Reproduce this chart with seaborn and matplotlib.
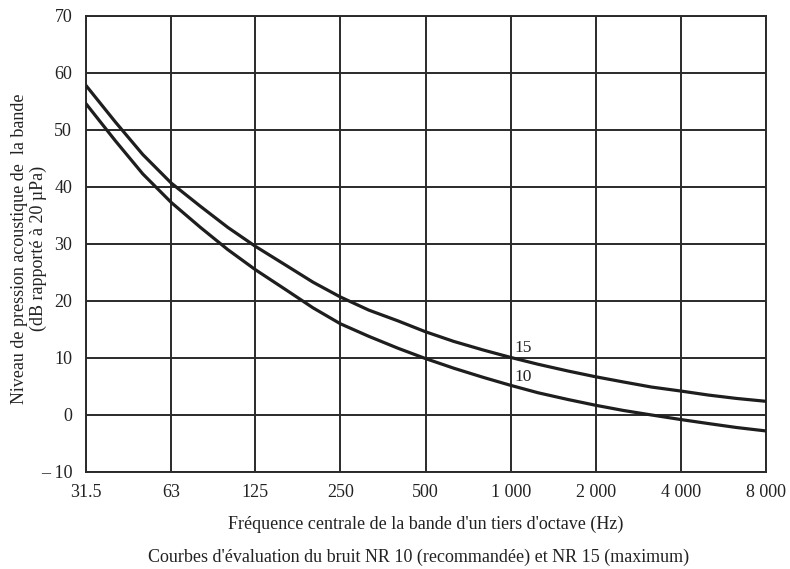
import numpy as np
import pandas as pd
import seaborn as sns
import matplotlib
matplotlib.use('Agg')
import matplotlib.pyplot as plt

# third-octave band centre frequencies (Hz)
freqs = [31.5, 40, 50, 63, 80, 100, 125, 160, 200, 250, 315, 400, 500,
         630, 800, 1000, 1250, 1600, 2000, 2500, 3150, 4000, 5000, 6300, 8000]

# NR 15 curve (dB re 20 uPa)
nr15 = [57.8, 51.4, 45.7, 40.7, 36.6, 32.9, 29.6, 26.3, 23.3, 20.7, 18.4, 16.5, 14.6,
        12.9, 11.4, 10.1, 8.9, 7.7, 6.7, 5.8, 4.9, 4.2, 3.5, 2.9, 2.4]

# NR 10 curve
nr10 = [54.6, 48.1, 42.3, 37.3, 32.9, 29.0, 25.5, 22.0, 18.8, 16.0, 13.8, 11.7, 9.9,
        8.2, 6.6, 5.2, 3.9, 2.7, 1.7, 0.8, 0.0, -0.8, -1.5, -2.2, -2.8]

# octave ticks and labels
octave_ticks = [31.5, 63, 125, 250, 500, 1000, 2000, 4000, 8000]
octave_labels = ['31.5', '63', '125', '250', '500', '1 000', '2 000', '4 000', '8 000']
y_ticks = [-10, 0, 10, 20, 30, 40, 50, 60, 70]
y_labels = ['\u2013 10', '0', '10', '20', '30', '40', '50', '60', '70']
curve_names = ['15', '10']

data = pd.DataFrame({
    'freq': freqs * 2,
    'level': nr15 + nr10,
    'curve': [curve_names[0]] * len(freqs) + [curve_names[1]] * len(freqs),
})

sns.set_style('white')
plt.rcParams['font.family'] = ['Liberation Serif', 'DejaVu Serif']

fig = plt.figure(figsize=(7.9, 5.69), dpi=100)
ax = fig.add_axes([0.1089, 0.1705, 0.8607, 0.8014])

ax.set_xscale('log', base=2)
ax.set_xlim(31.5, 8000)
ax.set_ylim(-10, 70)

# grid
for t in octave_ticks:
    ax.axvline(t, color='#2a2a2a', lw=1.4, zorder=1)
for t in y_ticks:
    ax.axhline(t, color='#2a2a2a', lw=1.4, zorder=1)

sns.lineplot(data=data, x='freq', y='level', hue='curve',
             palette={'15': '#1e1e1e', '10': '#1e1e1e'},
             linewidth=2.3, legend=False, ax=ax, zorder=3)
for ln in ax.get_lines():
    ln.set_solid_joinstyle('round')

ax.set_xticks(octave_ticks)
ax.set_xticklabels(octave_labels)
ax.minorticks_off()
ax.set_yticks(y_ticks)
ax.set_yticklabels(y_labels)
ax.tick_params(length=0, labelsize=13, colors='#222222')
ax.tick_params(axis='x', pad=9)
ax.tick_params(axis='y', pad=10)

for s in ax.spines.values():
    s.set_color('#2a2a2a')
    s.set_linewidth(1.4)

ax.set_xlabel("Fréquence centrale de la bande d'un tiers d'octave (Hz)",
              fontsize=13, color='#222222', labelpad=10)
ax.set_ylabel('Niveau de pression acoustique de  la bande\n(dB rapporté à 20 µPa)',
              fontsize=13, color='#222222', linespacing=1.1)
ax.yaxis.set_label_coords(-0.058, 0.49)

# curve labels
ax.text(1030, 11.7, curve_names[0], fontsize=12.5, color='#222222', va='center', ha='left')
ax.text(1030, 6.7, curve_names[1], fontsize=12.5, color='#222222', va='center', ha='left')

fig.text(0.53, 0.021, "Courbes d'évaluation du bruit NR 10 (recommandée) et NR 15 (maximum)",
         ha='center', va='center', fontsize=13, color='#222222')

fig.savefig('out.png', dpi=100)
